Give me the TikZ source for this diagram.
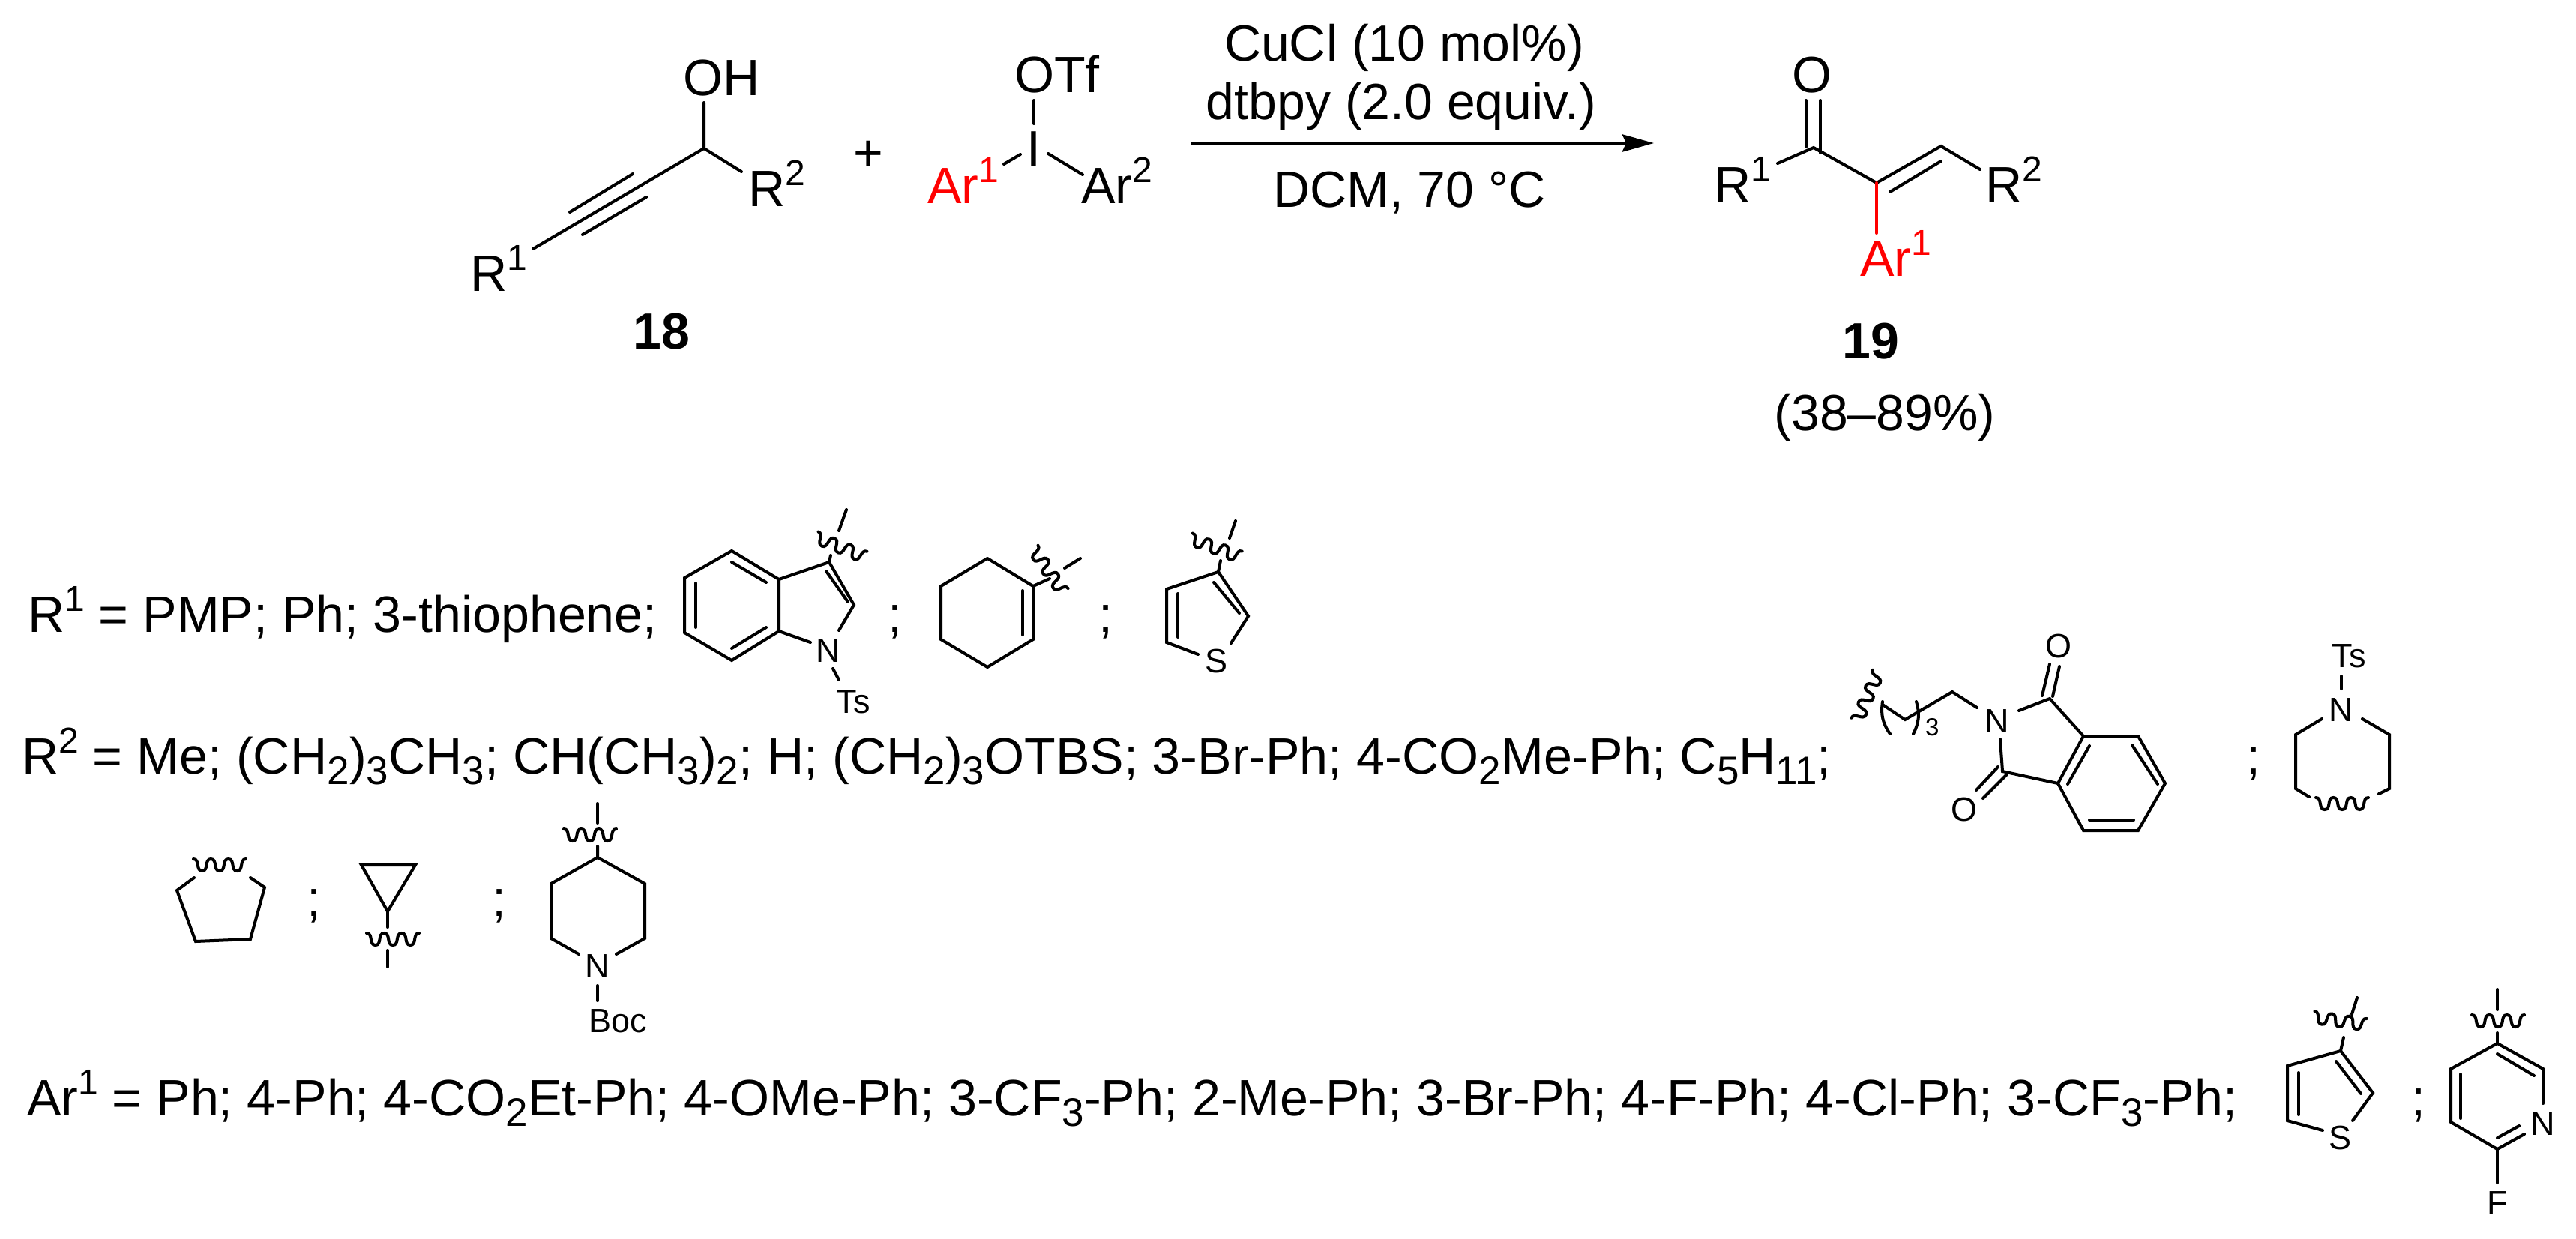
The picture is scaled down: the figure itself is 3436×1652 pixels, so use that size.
\documentclass[tikz,border=0pt]{standalone}
\usepackage{fontspec}
\setmainfont{Liberation Sans}
\usetikzlibrary{arrows.meta}
\newcommand{\chemhi}[1]{\raisebox{28pt}{\fontsize{48}{48}\selectfont #1}}
\newcommand{\chemlo}[1]{\raisebox{-14pt}{\fontsize{53}{53}\selectfont #1}}
\tikzset{
  every node/.style={inner sep=0pt,outer sep=0pt},
  bond/.style={line width=4pt,line cap=round},
  wave/.pic={\draw[bond] (-35,-8) .. controls (-26,-8) and (-32.3,8) .. (-23.3,8)
    .. controls (-14.3,8) and (-20.7,-8) .. (-11.7,-8)
    .. controls (-2.7,-8) and (-9,8) .. (0,8)
    .. controls (9,8) and (2.7,-8) .. (11.7,-8)
    .. controls (20.7,-8) and (14.3,8) .. (23.3,8)
    .. controls (32.3,8) and (26,-8) .. (35,-8);},
  redbond/.style={bond,color=red},
  txt/.style={anchor=base west,font=\fontsize{68.2}{76}\selectfont},
  mid/.style={anchor=base,font=\fontsize{68}{76}\selectfont},
  atom/.style={anchor=base,font=\fontsize{45}{50}\selectfont},
  num/.style={anchor=base,font=\fontsize{68}{76}\selectfont\bfseries},
}
\begin{document}
\begin{tikzpicture}[x=1pt,y=-1pt]
\useasboundingbox (0,0) rectangle (3436,1652);

% alcohol 18
\coordinate (carb) at (939,198);
\coordinate (ohend) at (939,137);
\coordinate (rtwoend) at (989,229);
\coordinate (roneend) at (711,332);
\coordinate (alka) at (844,232);
\coordinate (alkb) at (760,283);
\coordinate (alkc) at (862,263);
\coordinate (alkd) at (777,313);
\node(oh)[txt]      at (911,127) {OH};
\node(rtwo)[txt]    at (998,275) {R\chemhi{2}};
\node(rone)[txt]    at (627,388) {R\chemhi{1}};
\node(nra)[num]     at (882,465) {18};
\node(plus)[mid]    at (1158,227) {+};
\draw[bond] (ohend) -- (carb) -- (rtwoend);
\draw[bond] (carb) -- (roneend);
\draw[bond] (alka) -- (alkb);
\draw[bond] (alkc) -- (alkd);

% iodonium salt
\coordinate (iup) at (1379,134);
\coordinate (iupb) at (1379,165);
\coordinate (ila) at (1361,206);
\coordinate (ilb) at (1339,219);
\coordinate (ira) at (1398,205);
\coordinate (irb) at (1444,233);
\node(otf)[txt]     at (1353,123) {OTf};
\node(iod)[mid]     at (1379,222) {I};
\node(arone)[txt,text=red] at (1237,271) {Ar\chemhi{1}};
\node(artwo)[txt]   at (1442,271) {Ar\chemhi{2}};
\draw[bond] (iup) -- (iupb);
\draw[bond] (ila) -- (ilb);
\draw[bond] (ira) -- (irb);

% arrow
\coordinate (arrowa) at (1589,191);
\coordinate (arrowb) at (2206,191);
\node(cond1)[mid]   at (1873,81) {CuCl (10 mol\%)};
\node(cond2)[mid]   at (1869,159) {dtbpy (2.0 equiv.)};
\node(cond3)[mid]   at (1880,276) {DCM, 70 °C};
\draw[line width=4.6pt,-{Stealth[length=42pt,width=23pt,inset=5pt]}] (arrowa) -- (arrowb);

% enone 19
\coordinate (coc) at (2419,197);
\coordinate (ca) at (2503,244);
\coordinate (cb) at (2589,195);
\coordinate (rpa) at (2371,218);
\coordinate (rpb) at (2641,226);
\coordinate (oa) at (2409,134);
\coordinate (oaa) at (2409,196);
\coordinate (ob) at (2428,134);
\coordinate (obb) at (2428,204);
\coordinate (dba) at (2589,215);
\coordinate (dbb) at (2521,256);
\coordinate (redend) at (2503,311);
\node(oxo)[mid]     at (2417,123) {O};
\node(pone)[txt]    at (2286,270) {R\chemhi{1}};
\node(ptwo)[txt]    at (2648,270) {R\chemhi{2}};
\node(parone)[txt,text=red] at (2481,368) {Ar\chemhi{1}};
\node(nrb)[num]     at (2495,478) {19};
\node(yield)[mid]   at (2514,574) {(38–89\%)};
\draw[bond] (rpa) -- (coc) -- (ca) -- (cb) -- (rpb);
\draw[bond] (oa) -- (oaa);
\draw[bond] (ob) -- (obb);
\draw[bond] (dba) -- (dbb);
\draw[redbond] (ca) -- (redend);

% text lines
\node(lineone)[txt] at (37,843) {R\chemhi{1} = PMP; Ph; 3-thiophene;};
\node(linetwo)[txt] at (29,1032) {R\chemhi{2} = Me; (CH\chemlo{2})\chemlo{3}CH\chemlo{3}; CH(CH\chemlo{3})\chemlo{2}; H; (CH\chemlo{2})\chemlo{3}OTBS; 3-Br-Ph; 4-CO\chemlo{2}Me-Ph; C\chemlo{5}H\chemlo{11};};
\node(linethree)[txt] at (36,1488) {Ar\chemhi{1} = Ph; 4-Ph; 4-CO\chemlo{2}Et-Ph; 4-OMe-Ph; 3-CF\chemlo{3}-Ph; 2-Me-Ph; 3-Br-Ph; 4-F-Ph; 4-Cl-Ph; 3-CF\chemlo{3}-Ph;};
\node(semia)[mid]   at (1194,843) {;};
\node(semib)[mid]   at (1475,843) {;};
\node(semic)[mid]   at (3006,1032) {;};
\node(semid)[mid]   at (419,1222) {;};
\node(semie)[mid]   at (666,1222) {;};
\node(semif)[mid]   at (3226,1488) {;};

% indole
\coordinate (ina) at (976,735);
\coordinate (inb) at (1039,773);
\coordinate (inc) at (1039,842);
\coordinate (ind) at (976,881);
\coordinate (ine) at (913,844);
\coordinate (inf) at (913,771);
\coordinate (ing) at (1106,750);
\coordinate (inh) at (1139,807);
\coordinate (inni) at (1119,841);
\coordinate (innj) at (1081,857);
\coordinate (inia) at (928,778);
\coordinate (inib) at (928,837);
\coordinate (inic) at (976,750);
\coordinate (inid) at (1022,777);
\coordinate (inie) at (1022,837);
\coordinate (inif) at (976,865);
\coordinate (inig) at (1102,762);
\coordinate (inih) at (1131,803);
\coordinate (inta) at (1108,741);
\coordinate (intb) at (1119,708);
\coordinate (intc) at (1129,680);
\coordinate (inwm) at (1121,730);
\coordinate (intsa) at (1111,892);
\coordinate (intsb) at (1119,907);
\node(inn)[atom]    at (1105,883) {N};
\node(ints)[atom]   at (1138,951) {Ts};
\draw[bond] (ing) -- (inb) -- (ina) -- (inf) -- (ine) -- (ind) -- (inc) -- (inb);
\draw[bond] (inc) -- (innj);
\draw[bond] (ing) -- (inh) -- (inni);
\draw[bond] (inia) -- (inib);
\draw[bond] (inic) -- (inid);
\draw[bond] (inie) -- (inif);
\draw[bond] (inig) -- (inih);
\draw[bond] (ing) -- (inta);
\draw[bond] (intb) -- (intc);
\draw[bond] (intsa) -- (intsb);
\pic[rotate=-22] at (inwm) {wave};

% cyclohexene
\coordinate (cha) at (1317,745);
\coordinate (chb) at (1378,782);
\coordinate (chc) at (1378,853);
\coordinate (chd) at (1317,890);
\coordinate (che) at (1255,853);
\coordinate (chf) at (1255,782);
\coordinate (chia) at (1364,788);
\coordinate (chib) at (1364,847);
\coordinate (chta) at (1400,772);
\coordinate (chtb) at (1420,758);
\coordinate (chtc) at (1441,745);
\coordinate (chwm) at (1398,761);
\draw[bond] (cha) -- (chb) -- (chc) -- (chd) -- (che) -- (chf) -- (cha);
\draw[bond] (chia) -- (chib);
\draw[bond] (chb) -- (chta);
\draw[bond] (chtb) -- (chtc);
\pic[rotate=-55] at (chwm) {wave};

% thiophene, first line
\coordinate (tha) at (1625,763);
\coordinate (thb) at (1665,822);
\coordinate (thc) at (1642,858);
\coordinate (thd) at (1598,873);
\coordinate (the) at (1556,857);
\coordinate (thf) at (1556,786);
\coordinate (thia) at (1619,777);
\coordinate (thib) at (1653,818);
\coordinate (thic) at (1571,792);
\coordinate (thid) at (1571,850);
\coordinate (thta) at (1628,748);
\coordinate (thtb) at (1640,718);
\coordinate (thtc) at (1648,695);
\coordinate (thwm) at (1621,731);
\node(ths)[atom]    at (1622,897) {S};
\draw[bond] (thc) -- (thb) -- (tha) -- (thf) -- (the) -- (thd);
\draw[bond] (thia) -- (thib);
\draw[bond] (thic) -- (thid);
\draw[bond] (tha) -- (thta);
\draw[bond] (thtb) -- (thtc);
\pic[rotate=-20] at (thwm) {wave};

% phthalimide
\coordinate (pha) at (2511,940);
\coordinate (phb) at (2541,960);
\coordinate (phc) at (2604,923);
\coordinate (phd) at (2637,944);
\coordinate (phe) at (2693,948);
\coordinate (phf) at (2734,932);
\coordinate (phg) at (2779,982);
\coordinate (phh) at (2852,982);
\coordinate (phi) at (2888,1045);
\coordinate (phj) at (2852,1108);
\coordinate (phk) at (2779,1108);
\coordinate (phl) at (2745,1045);
\coordinate (phm) at (2671,1029);
\coordinate (phn) at (2668,986);
\coordinate (phia) at (2787,995);
\coordinate (phib) at (2758,1046);
\coordinate (phic) at (2844,994);
\coordinate (phid) at (2878,1046);
\coordinate (phie) at (2787,1094);
\coordinate (phif) at (2846,1094);
\coordinate (phoa) at (2724,928);
\coordinate (phob) at (2734,886);
\coordinate (phoc) at (2738,929);
\coordinate (phod) at (2747,889);
\coordinate (phoe) at (2665,1023);
\coordinate (phof) at (2636,1054);
\coordinate (phog) at (2677,1033);
\coordinate (phoh) at (2645,1065);
\coordinate (phwm) at (2491,929);
\coordinate (parla) at (2511,936);
\coordinate (parlb) at (2521,979);
\coordinate (parra) at (2556,936);
\coordinate (parrb) at (2552,979);
\node(phnit)[atom]  at (2664,977) {N};
\node(phoxa)[atom]  at (2746,877) {O};
\node(phoxb)[atom]  at (2620,1095) {O};
\node(phsub)[anchor=base west,font=\fontsize{33}{36}\selectfont] at (2568,981) {3};
\draw[bond] (pha) -- (phb) -- (phc) -- (phd);
\draw[bond] (phe) -- (phf) -- (phg) -- (phh) -- (phi) -- (phj) -- (phk) -- (phl) -- (phg);
\draw[bond] (phl) -- (phm) -- (phn);
\draw[bond] (phia) -- (phib);
\draw[bond] (phic) -- (phid);
\draw[bond] (phie) -- (phif);
\draw[bond] (phoa) -- (phob);
\draw[bond] (phoc) -- (phod);
\draw[bond] (phoe) -- (phof);
\draw[bond] (phog) -- (phoh);
\draw[bond] (parla) to[bend right=22] (parlb);
\draw[bond] (parra) to[bend left=22] (parrb);
\pic[rotate=66] at (phwm) {wave};

% N-Ts piperidine
\coordinate (tsa) at (3123,902);
\coordinate (tsb) at (3123,919);
\coordinate (tsc) at (3097,959);
\coordinate (tsd) at (3062,980);
\coordinate (tse) at (3062,1052);
\coordinate (tsf) at (3080,1063);
\coordinate (tsg) at (3151,959);
\coordinate (tsh) at (3187,980);
\coordinate (tsi) at (3187,1052);
\coordinate (tsj) at (3173,1059);
\coordinate (tswm) at (3124,1072);
\node(tsn)[atom]    at (3123,962) {N};
\node(tsts)[atom]   at (3133,890) {Ts};
\draw[bond] (tsa) -- (tsb);
\draw[bond] (tsc) -- (tsd) -- (tse) -- (tsf);
\draw[bond] (tsg) -- (tsh) -- (tsi) -- (tsj);
\pic at (tswm) {wave};

% cyclopentane
\coordinate (cpa) at (259,1171);
\coordinate (cpb) at (236,1188);
\coordinate (cpc) at (261,1256);
\coordinate (cpd) at (334,1253);
\coordinate (cpe) at (353,1184);
\coordinate (cpf) at (334,1171);
\coordinate (cpwm) at (293,1154);
\draw[bond] (cpa) -- (cpb) -- (cpc) -- (cpd) -- (cpe) -- (cpf);
\pic at (cpwm) {wave};

% cyclopropane
\coordinate (cra) at (482,1154);
\coordinate (crb) at (554,1154);
\coordinate (crc) at (517,1216);
\coordinate (crd) at (517,1237);
\coordinate (cre) at (517,1268);
\coordinate (crf) at (517,1290);
\coordinate (crwm) at (524,1253);
\draw[bond] (cra) -- (crb) -- (crc) -- cycle;
\draw[bond] (crc) -- (crd);
\draw[bond] (cre) -- (crf);
\pic at (crwm) {wave};

% N-Boc piperidine
\coordinate (boa) at (797,1072);
\coordinate (bob) at (797,1098);
\coordinate (boc) at (797,1129);
\coordinate (bod) at (797,1144);
\coordinate (boe) at (735,1179);
\coordinate (bof) at (735,1252);
\coordinate (bog) at (772,1273);
\coordinate (boh) at (860,1179);
\coordinate (boi) at (860,1252);
\coordinate (boj) at (822,1273);
\coordinate (bok) at (797,1315);
\coordinate (bol) at (797,1335);
\coordinate (bowm) at (787,1114);
\node(bon)[atom]    at (797,1304) {N};
\node(boboc)[atom]  at (824,1377) {Boc};
\draw[bond] (boa) -- (bob);
\draw[bond] (boc) -- (bod) -- (boe) -- (bof) -- (bog);
\draw[bond] (bod) -- (boh) -- (boi) -- (boj);
\draw[bond] (bok) -- (bol);
\pic at (bowm) {wave};

% thiophene, last line
\coordinate (tia) at (3122,1402);
\coordinate (tib) at (3165,1458);
\coordinate (tic) at (3138,1495);
\coordinate (tid) at (3098,1508);
\coordinate (tie) at (3051,1495);
\coordinate (tif) at (3051,1422);
\coordinate (tiia) at (3116,1416);
\coordinate (tiib) at (3149,1459);
\coordinate (tiic) at (3066,1431);
\coordinate (tiid) at (3066,1487);
\coordinate (tita) at (3126,1384);
\coordinate (titb) at (3137,1353);
\coordinate (titc) at (3144,1331);
\coordinate (tiwm) at (3121,1362);
\node(tis)[atom]    at (3121,1533) {S};
\draw[bond] (tic) -- (tib) -- (tia) -- (tif) -- (tie) -- (tid);
\draw[bond] (tiia) -- (tiib);
\draw[bond] (tiic) -- (tiid);
\draw[bond] (tia) -- (tita);
\draw[bond] (titb) -- (titc);
\pic[rotate=-8] at (tiwm) {wave};

% fluoropyridine
\coordinate (pya) at (3331,1392);
\coordinate (pyb) at (3392,1426);
\coordinate (pyc) at (3392,1472);
\coordinate (pyd) at (3367,1513);
\coordinate (pye) at (3331,1533);
\coordinate (pyf) at (3269,1497);
\coordinate (pyg) at (3269,1426);
\coordinate (pyia) at (3331,1406);
\coordinate (pyib) at (3380,1435);
\coordinate (pyic) at (3282,1433);
\coordinate (pyid) at (3282,1492);
\coordinate (pyie) at (3331,1518);
\coordinate (pyif) at (3360,1502);
\coordinate (pyta) at (3331,1378);
\coordinate (pytb) at (3331,1347);
\coordinate (pytc) at (3331,1320);
\coordinate (pyfa) at (3331,1578);
\coordinate (pywm) at (3332,1362);
\node(pyn)[atom]    at (3392,1514) {N};
\node(pyfl)[atom]   at (3331,1620) {F};
\draw[bond] (pyc) -- (pyb) -- (pya) -- (pyg) -- (pyf) -- (pye) -- (pyd);
\draw[bond] (pyia) -- (pyib);
\draw[bond] (pyic) -- (pyid);
\draw[bond] (pyie) -- (pyif);
\draw[bond] (pya) -- (pyta);
\draw[bond] (pytb) -- (pytc);
\draw[bond] (pye) -- (pyfa);
\pic at (pywm) {wave};

\end{tikzpicture}
\end{document}
